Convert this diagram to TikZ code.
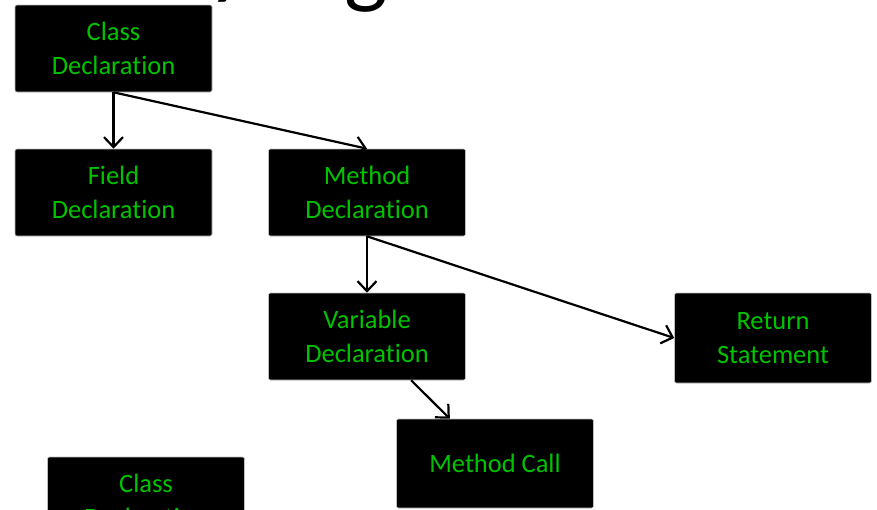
\documentclass[tikz,border=0pt]{standalone}
\usepackage{fontspec}
\setmainfont{Carlito}[Ligatures={NoCommon}]
\usetikzlibrary{arrows.meta}
\definecolor{txtgreen}{RGB}{0,196,0}
\begin{document}
\begin{tikzpicture}[x=1pt,y=-1pt,
  box/.style={draw=gray!50, line width=0.6pt, fill=black, rounded corners=2pt,
    minimum width=197pt, minimum height=87pt, text=txtgreen, align=center,
    font=\fontsize{26.5}{34}\selectfont, inner sep=0pt},
  arr/.style={line width=2.2pt, -{Straight Barb[length=10pt,width=19pt,line width=2.2pt]}},
  title/.style={font=\fontsize{92}{92}\selectfont, inner sep=0pt}]
\useasboundingbox (0,0) rectangle (877,509);
% partially visible title
\node[title, anchor=base west] (ty) at (208,-13) {y};
\node[title, anchor=base] (tg) at (366,-4) {g};
% boxes
\node[box] (cd) at (113.5,48.5) {Class\\Declaration};
\node[box] (fd) at (113.5,192.5) {Field\\Declaration};
\node[box] (md) at (367,192.5) {Method\\Declaration};
\node[box] (vd) at (367,336.5) {Variable\\Declaration};
\node[box, minimum height=90pt] (rs) at (773,338) {Return\\Statement};
\node[box, minimum height=89pt] (mc) at (495,463.5) {Method Call};
\node[box] (cd2) at (146,500.5) {Class\\Declaration};
% connectors
\draw[arr] (cd.south) -- (fd.north);
\draw[arr] (cd.south) -- (md.north);
\draw[arr] (md.south) -- (vd.north);
\draw[arr] (md.south) -- (rs.west);
\draw[arr] (vd) -- (mc);
\end{tikzpicture}
\end{document}
